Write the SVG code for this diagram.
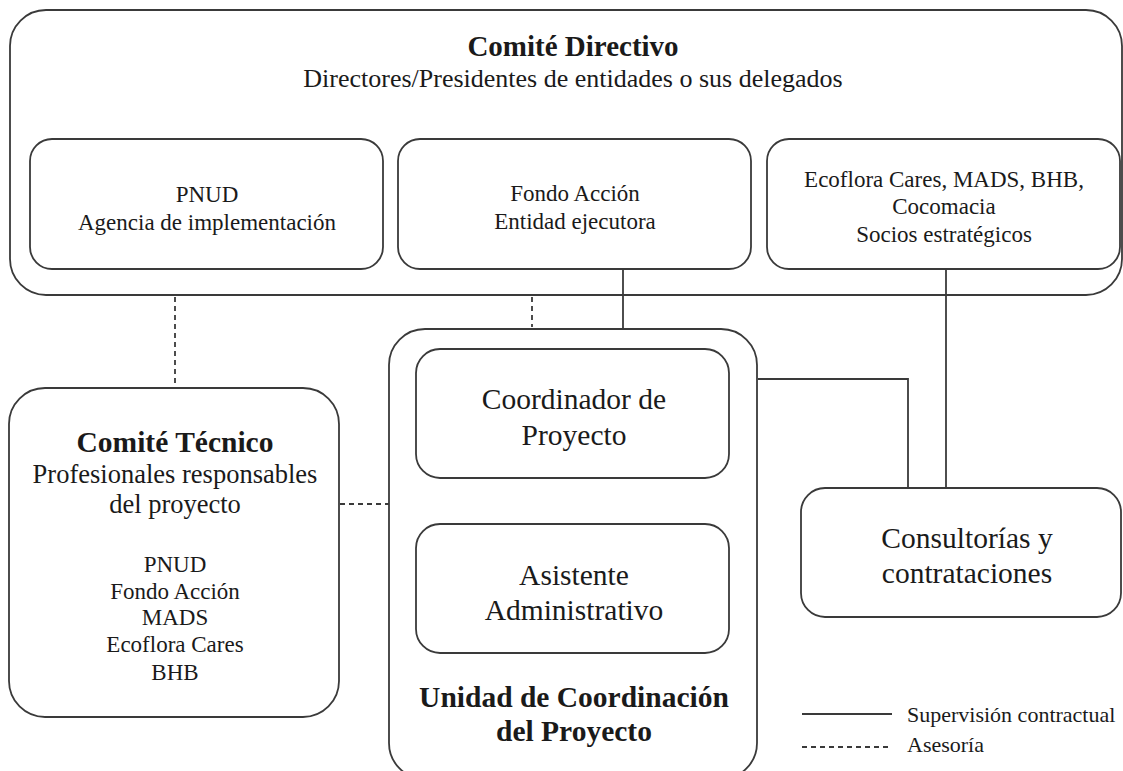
<svg xmlns="http://www.w3.org/2000/svg" width="1123" height="771" viewBox="0 0 1123 771">
<style>
  .box { fill: #ffffff; stroke: #3a3a3a; stroke-width: 1.8; }
  .t { font-family: "Liberation Serif", "Times New Roman", serif; fill: #1a1a1a; text-anchor: middle; }
  .l { text-anchor: start; }
  .b { font-weight: bold; }
  .solid { stroke: #3a3a3a; stroke-width: 1.8; fill: none; }
  .dash { stroke: #3a3a3a; stroke-width: 1.8; fill: none; stroke-dasharray: 5 4; }
</style>
<rect width="1123" height="771" fill="#ffffff"/>

<g id="comite-directivo">
  <rect class="box" x="10" y="10" width="1112" height="285" rx="36" ry="36"/>
  <text class="t b" x="573" y="56" font-size="29">Comité Directivo</text>
  <text class="t" x="573" y="87" font-size="26">Directores/Presidentes de entidades o sus delegados</text>
</g>

<g id="pnud">
  <rect class="box" x="30" y="139" width="353" height="130" rx="22" ry="22"/>
  <text class="t" x="207" y="202" font-size="23">PNUD</text>
  <text class="t" x="207" y="230" font-size="23">Agencia de implementación</text>
</g>

<g id="fondo-accion">
  <rect class="box" x="398" y="139" width="353" height="130" rx="22" ry="22"/>
  <text class="t" x="575" y="201" font-size="23">Fondo Acción</text>
  <text class="t" x="575" y="229" font-size="23">Entidad ejecutora</text>
</g>

<g id="socios">
  <rect class="box" x="767" y="139" width="353" height="130" rx="22" ry="22"/>
  <text class="t" x="944" y="187" font-size="23">Ecoflora Cares, MADS, BHB,</text>
  <text class="t" x="944" y="214" font-size="23">Cocomacia</text>
  <text class="t" x="944" y="242" font-size="23">Socios estratégicos</text>
</g>

<g id="connectors">
  <line class="dash" x1="175" y1="297" x2="175" y2="387"/>
  <line class="dash" x1="532" y1="297" x2="532" y2="327"/>
  <line class="solid" x1="623" y1="269" x2="623" y2="329"/>
  <line class="solid" x1="946" y1="269" x2="946" y2="488"/>
  <polyline class="solid" points="758,379 908,379 908,488"/>
  <line class="solid" x1="573" y1="478" x2="573" y2="524"/>
  <line class="dash" x1="340" y1="504" x2="389" y2="504"/>
</g>

<g id="comite-tecnico">
  <rect class="box" x="9" y="388" width="330" height="329" rx="36" ry="36"/>
  <text class="t b" x="175" y="452" font-size="29.5">Comité Técnico</text>
  <text class="t" x="175" y="483" font-size="26.5">Profesionales responsables</text>
  <text class="t" x="175" y="513" font-size="26.5">del proyecto</text>
  <text class="t" x="175" y="572" font-size="23">PNUD</text>
  <text class="t" x="175" y="599" font-size="23">Fondo Acción</text>
  <text class="t" x="175" y="625" font-size="23">MADS</text>
  <text class="t" x="175" y="652" font-size="23">Ecoflora Cares</text>
  <text class="t" x="175" y="680" font-size="23">BHB</text>
</g>

<g id="unidad-coordinacion">
  <rect class="box" x="389" y="329" width="368" height="450" rx="36" ry="36"/>
  <text class="t b" x="574" y="707" font-size="29.5">Unidad de Coordinación</text>
  <text class="t b" x="574" y="741" font-size="29.5">del Proyecto</text>
</g>

<g id="coordinador">
  <rect class="box" x="416" y="349" width="313" height="129" rx="24" ry="24"/>
  <text class="t" x="574" y="409" font-size="29.5">Coordinador de</text>
  <text class="t" x="574" y="445" font-size="29.5">Proyecto</text>
</g>

<g id="asistente">
  <rect class="box" x="416" y="524" width="313" height="129" rx="24" ry="24"/>
  <text class="t" x="574" y="585" font-size="29.5">Asistente</text>
  <text class="t" x="574" y="620" font-size="29.5">Administrativo</text>
</g>

<g id="consultorias">
  <rect class="box" x="801" y="488" width="320" height="129" rx="24" ry="24"/>
  <text class="t" x="967" y="548" font-size="29.5">Consultorías y</text>
  <text class="t" x="967" y="583" font-size="29.5">contrataciones</text>
</g>

<g id="legend">
  <line class="solid" x1="802" y1="714" x2="892" y2="714"/>
  <line class="dash" x1="802" y1="747" x2="892" y2="747"/>
  <text class="t l" x="907" y="722" font-size="22">Supervisión contractual</text>
  <text class="t l" x="907" y="752" font-size="22">Asesoría</text>
</g>
</svg>
